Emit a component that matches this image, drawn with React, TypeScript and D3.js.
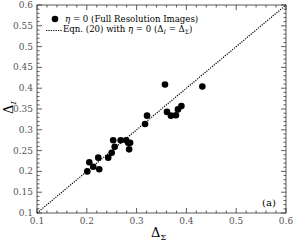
import React from "react";
import * as d3 from "d3";

// data (Delta_Sigma, Delta_I)
const deltaSigma = [
  0.201, 0.205, 0.213, 0.223, 0.225, 0.243, 0.25, 0.253, 0.256, 0.268, 0.279, 0.283,
  0.287, 0.285, 0.317, 0.321, 0.357, 0.361, 0.369, 0.379, 0.383, 0.39, 0.432,
];
const deltaI = [
  0.2, 0.222, 0.211, 0.233, 0.205, 0.233, 0.245, 0.275, 0.259, 0.275, 0.275, 0.269,
  0.269, 0.253, 0.314, 0.334, 0.409, 0.343, 0.334, 0.335, 0.349, 0.357, 0.404,
];
const xTicks = [0.1, 0.2, 0.3, 0.4, 0.5, 0.6];
const yTicks = [0.1, 0.15, 0.2, 0.25, 0.3, 0.35, 0.4, 0.45, 0.5, 0.55, 0.6];
const legendLabels = ["Full Resolution Images", "Eqn. (20) with"];

const W = 293;
const H = 251;
const m = { left: 37, right: 7, top: 5, bottom: 38 };
const serif = "'DejaVu Serif', serif";

export default function App() {
  const x = d3.scaleLinear().domain([0.1, 0.6]).range([m.left, W - m.right]);
  const y = d3.scaleLinear().domain([0.1, 0.6]).range([H - m.bottom, m.top]);
  const [x0, x1] = x.range();
  const [y0, y1] = y.range();

  const xMinor = d3.range(0.1, 0.6001, 0.02);
  const yMinor = d3.range(0.1, 0.6001, 0.01);
  const ref = d3.line<number>().x((d) => x(d)).y((d) => y(d))([0.1, 0.6]);

  const tickColor = "#333";
  const fmt = (v: number) => d3.format("")(+v.toFixed(2));

  return (
    <svg
      width={W}
      height={H}
      style={{ position: "absolute", left: 0, top: 0, background: "#fff" }}
      fontFamily={serif}
    >
      {/* frame */}
      <rect x={x0} y={y1} width={x1 - x0} height={y0 - y1} fill="none" stroke={tickColor} strokeWidth={0.8} />

      {/* ticks on all four sides */}
      {xMinor.map((v, i) => {
        const major = xTicks.some((t) => Math.abs(t - v) < 1e-6);
        const len = major ? 5 : 2.5;
        return (
          <g key={"xm" + i} stroke={tickColor} strokeWidth={0.8}>
            <line x1={x(v)} x2={x(v)} y1={y0} y2={y0 - len} />
            <line x1={x(v)} x2={x(v)} y1={y1} y2={y1 + len} />
          </g>
        );
      })}
      {yMinor.map((v, i) => {
        const major = yTicks.some((t) => Math.abs(t - v) < 1e-6);
        const len = major ? 5 : 2.5;
        return (
          <g key={"ym" + i} stroke={tickColor} strokeWidth={0.8}>
            <line x1={x0} x2={x0 + len} y1={y(v)} y2={y(v)} />
            <line x1={x1} x2={x1 - len} y1={y(v)} y2={y(v)} />
          </g>
        );
      })}

      {xTicks.map((t) => (
        <text key={"xt" + t} x={x(t)} y={y0 + 11} fontSize={9} textAnchor="middle" fill="#555">
          {fmt(t)}
        </text>
      ))}
      {yTicks.map((t) => (
        <text key={"yt" + t} x={x0 - 4} y={y(t) + 3} fontSize={9} textAnchor="end" fill="#555">
          {fmt(t)}
        </text>
      ))}

      {/* y = x reference line */}
      <path d={ref ?? ""} fill="none" stroke="#000" strokeWidth={1.2} strokeDasharray="1.2,1.2" />

      {/* points */}
      {deltaSigma.map((v, i) => (
        <circle key={"p" + i} cx={x(v)} cy={y(deltaI[i])} r={3.3} fill="#000" />
      ))}

      {/* legend */}
      <circle cx={55} cy={19} r={3.3} fill="#000" />
      <text x={65} y={21.5} fontSize={8.6} fill="#000">
        <tspan fontStyle="italic">η</tspan> = 0 ({legendLabels[0]})
      </text>
      <line x1={46} x2={62} y1={30.5} y2={30.5} stroke="#000" strokeWidth={1.2} strokeDasharray="1.2,1.2" />
      <text x={63} y={31.5} fontSize={8.6} fill="#000">
        {legendLabels[1]} <tspan fontStyle="italic">η</tspan> = 0 (Δ
        <tspan fontSize={6} dy={2} fontStyle="italic">I</tspan>
        <tspan dy={-2}> = Δ</tspan>
        <tspan fontSize={6} dy={2}>Σ</tspan>
        <tspan dy={-2}>)</tspan>
      </text>

      <text x={269} y={206} fontSize={10} textAnchor="middle" fill="#000">
        (a)
      </text>

      {/* axis titles */}
      <text x={151} y={237} fontSize={13} fill="#000">
        Δ<tspan fontSize={8} dy={3}>Σ</tspan>
      </text>
      <text transform="translate(13,114) rotate(-90)" fontSize={13} fill="#000">
        Δ<tspan fontSize={8} dy={3} fontStyle="italic">I</tspan>
      </text>
    </svg>
  );
}
